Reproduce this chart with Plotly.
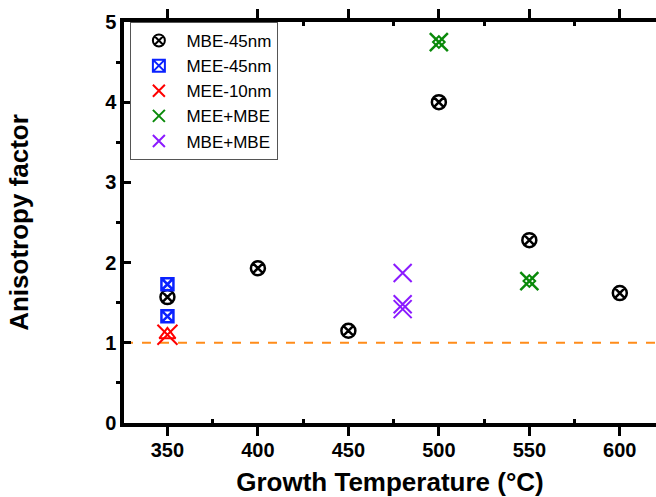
import plotly.graph_objects as go

# Data
mbe45_x = [350, 400, 450, 500, 550, 600]
mbe45_y = [1.57, 1.93, 1.15, 4.0, 2.28, 1.62]
mee45_x = [350, 350]
mee45_y = [1.73, 1.33]
mee10_x = [350]
mee10_y = [1.1]
meembe_x = [500, 550]
meembe_y = [4.75, 1.77]
mbembe_x = [480, 480, 480]
mbembe_y = [1.87, 1.48, 1.42]
ref_x = [326, 620]
ref_y = [1, 1]

FONT = "Liberation Sans, Arial, sans-serif"

fig = go.Figure()
fig.add_trace(go.Scatter(x=ref_x, y=ref_y, mode="lines", showlegend=False,
                         line=dict(color="#FF8C1A", width=2, dash="dash")))
fig.add_trace(go.Scatter(x=mbe45_x, y=mbe45_y, mode="markers", name="MBE-45nm",
                         marker=dict(symbol="circle-x-open", size=14, color="black",
                                     line=dict(width=2.5, color="black"))))
fig.add_trace(go.Scatter(x=mee45_x, y=mee45_y, mode="markers", name="MEE-45nm",
                         marker=dict(symbol="square-x-open", size=12, color="#0A22FF",
                                     line=dict(width=2.5, color="#0A22FF"))))
fig.add_trace(go.Scatter(x=mee10_x, y=mee10_y, mode="markers", name="MEE-10nm",
                         marker=dict(symbol="x-thin-open", size=20, color="red",
                                     line=dict(width=2, color="red"))))
fig.add_trace(go.Scatter(x=mee10_x, y=mee10_y, mode="markers", showlegend=False,
                         marker=dict(symbol="triangle-up-open", size=14, color="red",
                                     line=dict(width=2, color="red"))))
fig.add_trace(go.Scatter(x=meembe_x, y=meembe_y, mode="markers", name="MEE+MBE",
                         marker=dict(symbol="x-thin-open", size=18, color="#0A8A0A",
                                     line=dict(width=2.5, color="#0A8A0A"))))
fig.add_trace(go.Scatter(x=meembe_x, y=meembe_y, mode="markers", showlegend=False,
                         marker=dict(symbol="diamond-open", size=9, color="#0A8A0A",
                                     line=dict(width=2, color="#0A8A0A"))))
fig.add_trace(go.Scatter(x=mbembe_x, y=mbembe_y, mode="markers", name="MBE+MBE",
                         marker=dict(symbol="x-thin-open", size=18, color="#8B1AFF",
                                     line=dict(width=2, color="#8B1AFF"))))

fig.update_layout(
    width=656, height=497,
    margin=dict(l=124, r=0, t=22, b=74, autoexpand=False),
    plot_bgcolor="white", paper_bgcolor="white",
    font=dict(family=FONT, color="black"),
    legend=dict(x=0.012, y=1.0, xanchor="left", yanchor="top",
                bgcolor="white", bordercolor="#555", borderwidth=1,
                font=dict(size=17, family=FONT), tracegroupgap=0,
                itemsizing="constant", itemwidth=45),
    xaxis=dict(range=[326, 620], tickvals=[350, 400, 450, 500, 550, 600],
               ticks="outside", ticklen=9, tickwidth=3, tickcolor="black",
               ticklabelstandoff=-3,
               showline=True, linewidth=3.5, linecolor="black", mirror="ticks",
               showgrid=False, zeroline=False, automargin=False,
               tickfont=dict(size=20, family=FONT, weight="bold"),
               minor=dict(tickvals=[375, 425, 475, 525, 575], ticks="inside",
                          ticklen=4, tickwidth=3, tickcolor="black"),
               title=dict(text="<b>Growth Temperature (°C)</b>", font=dict(size=26), standoff=17)),
    yaxis=dict(range=[0, 5], tickvals=[0, 1, 2, 3, 4, 5],
               ticks="inside", ticklen=7, tickwidth=3, tickcolor="black",
               showline=True, linewidth=3.5, linecolor="black", mirror=False,
               showgrid=False, zeroline=False, automargin=False,
               tickfont=dict(size=20, family=FONT, weight="bold"),
               minor=dict(tickvals=[0.5, 1.5, 2.5, 3.5, 4.5], ticks="outside",
                          ticklen=4, tickwidth=3, tickcolor="black"),
               title=dict(text="<b>Anisotropy factor</b>", font=dict(size=26), standoff=70)),
)

fig.write_html("out.html", config={"displayModeBar": False},
               post_script="document.body.style.margin='0';document.body.style.overflow='hidden';")
